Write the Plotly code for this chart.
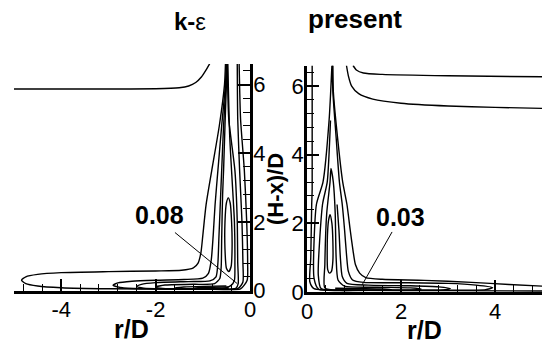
import plotly.graph_objects as go

# ---------------- k-epsilon panel (r/D < 0) ----------------
# ambient-side contour near the nozzle exit
kl_amb_r = [-5.0, -3.0, -2.0, -1.5, -1.3, -1.15, -1.03, -0.92, -0.85]
kl_amb_y = [5.87, 5.87, 5.88, 5.91, 5.96, 6.06, 6.22, 6.45, 6.62]

# outermost shear-layer / wall-jet contour (outer branch, wall loop, inner branch)
kl_c1_r = [-0.52, -0.54, -0.65, -0.81, -0.93, -1.0, -1.04, -1.1, -1.2, -1.45, -2.0, -3.0, -4.0, -4.5,
           -4.75, -4.84, -4.75, -4.5, -4.0, -3.0, -1.0, -0.2, -0.06, -0.05, -0.07, -0.12, -0.2, -0.23]
kl_c1_y = [6.6, 6.0, 4.8, 3.5, 2.5, 1.6, 1.1, 0.8, 0.66, 0.59, 0.57, 0.55, 0.52, 0.47,
           0.4, 0.3, 0.2, 0.13, 0.08, 0.05, 0.04, 0.05, 0.3, 0.8, 2.0, 3.5, 5.0, 6.6]

kl_c2_r = [-0.5, -0.52, -0.6, -0.68, -0.74, -0.78, -0.82, -0.88, -1.0, -1.4, -2.0, -2.5, -2.8, -2.9,
           -2.7, -2.2, -1.0, -0.25, -0.15, -0.15, -0.17, -0.22, -0.26, -0.27]
kl_c2_y = [6.6, 6.0, 4.8, 3.5, 2.5, 1.6, 0.9, 0.5, 0.36, 0.32, 0.3, 0.27, 0.22, 0.15,
           0.08, 0.05, 0.04, 0.06, 0.25, 0.8, 2.0, 3.5, 5.0, 6.6]

kl_c3_r = [-0.49, -0.51, -0.56, -0.6, -0.63, -0.66, -0.68, -0.72, -0.85, -1.3, -2.0, -2.3, -2.4,
           -2.25, -1.8, -0.8, -0.3, -0.25, -0.26, -0.27, -0.32, -0.45, -0.48]
kl_c3_y = [6.6, 6.0, 4.8, 3.5, 2.5, 1.5, 0.8, 0.4, 0.28, 0.26, 0.23, 0.18, 0.12,
           0.07, 0.05, 0.04, 0.06, 0.2, 0.8, 2.0, 3.5, 5.0, 6.6]

kl_c4_r = [-0.48, -0.5, -0.53, -0.56, -0.58, -0.6, -0.61, -0.64, -0.75, -1.2, -1.8, -2.0, -1.85,
           -1.2, -0.6, -0.4, -0.33, -0.32, -0.33, -0.37, -0.43, -0.47]
kl_c4_y = [6.6, 6.0, 4.8, 3.5, 2.8, 1.5, 0.7, 0.35, 0.2, 0.18, 0.16, 0.1, 0.06,
           0.05, 0.05, 0.15, 0.3, 0.8, 2.0, 3.0, 4.5, 6.6]

# peak-k island in the shear layer
kl_peak_r = [-0.46, -0.42, -0.39, -0.38, -0.4, -0.45, -0.5, -0.53, -0.53, -0.5, -0.46]
kl_peak_y = [2.7, 2.55, 2.0, 1.2, 0.7, 0.55, 0.65, 1.2, 2.0, 2.55, 2.7]

# thin near-wall islands
kl_w1_r = [-0.5, -1.0, -1.4, -1.6, -1.4, -1.0, -0.5]
kl_w1_y = [0.13, 0.12, 0.1, 0.07, 0.045, 0.045, 0.05]
kl_w2_r = [-0.45, -0.8, -1.1, -1.2, -1.1, -0.8, -0.45]
kl_w2_y = [0.1, 0.09, 0.08, 0.06, 0.045, 0.045, 0.05]

# ---------------- present-model panel (r/D > 0) ----------------
pr_amb1_r = [0.98, 1.05, 1.2, 1.6, 3.0, 5.0]
pr_amb1_y = [6.6, 6.47, 6.38, 6.34, 6.3, 6.27]
pr_amb2_r = [0.84, 0.88, 0.95, 1.1, 1.4, 2.0, 3.0, 4.0, 5.0]
pr_amb2_y = [6.6, 6.3, 6.0, 5.78, 5.62, 5.5, 5.42, 5.38, 5.35]

pr_c1_r = [0.55, 0.56, 0.65, 0.76, 0.85, 0.92, 0.98, 1.03, 1.12, 1.25, 1.6, 2.5, 3.5, 4.3, 5.0]
pr_c1_y = [6.6, 5.85, 4.5, 3.2, 2.55, 1.8, 1.2, 0.8, 0.55, 0.42, 0.37, 0.34, 0.28, 0.22, 0.17]
pr_c1i_r = [0.11, 0.11, 0.1, 0.08, 0.06, 0.15, 1.0, 3.0, 5.0]
pr_c1i_y = [6.6, 3.0, 2.55, 1.0, 0.3, 0.1, 0.05, 0.04, 0.03]

pr_c2_r = [0.54, 0.55, 0.62, 0.69, 0.75, 0.8, 0.84, 0.88, 0.97, 1.2, 2.0, 3.0, 3.6, 3.95, 3.8,
           3.0, 1.0, 0.25, 0.15, 0.2, 0.34, 0.47, 0.53]
pr_c2_y = [6.6, 5.85, 4.5, 3.2, 2.55, 1.8, 1.1, 0.6, 0.35, 0.28, 0.27, 0.25, 0.2, 0.13, 0.07,
           0.05, 0.05, 0.08, 0.4, 2.55, 3.2, 5.0, 6.6]

pr_c3_r = [0.64, 0.68, 0.71, 0.75, 0.85, 1.3, 2.2, 2.8, 3.05, 2.9, 2.0, 0.8, 0.3, 0.24, 0.33, 0.43, 0.5]
pr_c3_y = [2.55, 1.8, 1.0, 0.45, 0.25, 0.2, 0.18, 0.15, 0.1, 0.06, 0.05, 0.05, 0.1, 0.5, 2.55, 3.2, 5.0]

pr_c4_r = [0.51, 0.56, 0.6, 0.62, 0.66, 0.8, 1.5, 2.2, 2.43, 2.3, 1.5, 0.7, 0.38, 0.38, 0.42, 0.49, 0.51]
pr_c4_y = [3.6, 3.2, 2.3, 1.0, 0.35, 0.17, 0.14, 0.12, 0.09, 0.06, 0.05, 0.05, 0.12, 0.8, 2.3, 3.2, 3.6]

pr_peak_r = [0.49, 0.53, 0.55, 0.55, 0.52, 0.48, 0.44, 0.43, 0.44, 0.46, 0.49]
pr_peak_y = [2.25, 2.0, 1.5, 0.9, 0.6, 0.55, 0.65, 1.2, 1.8, 2.1, 2.25]

pr_w1_r = [0.6, 1.2, 1.6, 1.8, 1.6, 1.1, 0.6]
pr_w1_y = [0.11, 0.1, 0.09, 0.07, 0.05, 0.05, 0.06]

# level labels with their leader lines
lab_left = "0.08"
lab_left_pos = (-1.91, 2.19)
lead_left_r = [-1.59, -0.27]
lead_left_y = [1.69, 0.2]
lab_right = "0.03"
lab_right_pos = (1.98, 2.19)
lead_right_r = [1.81, 1.17]
lead_right_y = [1.75, 0.2]

x_ticks_left = [-4, -2, 0]
x_text_left = ["-4", "-2", "0"]
x_ticks_right = [0, 2, 4]
y_ticks = [0, 2, 4, 6]

FONT = "Liberation Sans, Arial, Helvetica, sans-serif"
LW = 1.4

fig = go.Figure()


def add_line(r, y, xa, ya, width=LW):
    fig.add_trace(go.Scatter(x=r, y=y, mode="lines", xaxis=xa, yaxis=ya,
                             line=dict(color="black", width=width, shape="spline", smoothing=0.6),
                             hoverinfo="skip", showlegend=False))


for r, y in [(kl_amb_r, kl_amb_y), (kl_c1_r, kl_c1_y), (kl_c2_r, kl_c2_y), (kl_c3_r, kl_c3_y),
             (kl_c4_r, kl_c4_y), (kl_peak_r, kl_peak_y), (kl_w1_r, kl_w1_y), (kl_w2_r, kl_w2_y)]:
    add_line(r, y, "x", "y")
for r, y in [(pr_amb1_r, pr_amb1_y), (pr_amb2_r, pr_amb2_y), (pr_c1_r, pr_c1_y), (pr_c1i_r, pr_c1i_y),
             (pr_c2_r, pr_c2_y), (pr_c3_r, pr_c3_y), (pr_c4_r, pr_c4_y), (pr_peak_r, pr_peak_y),
             (pr_w1_r, pr_w1_y)]:
    add_line(r, y, "x2", "y2")

fig.add_trace(go.Scatter(x=lead_left_r, y=lead_left_y, mode="lines", xaxis="x", yaxis="y",
                         line=dict(color="black", width=1), hoverinfo="skip", showlegend=False))
fig.add_trace(go.Scatter(x=lead_right_r, y=lead_right_y, mode="lines", xaxis="x2", yaxis="y2",
                         line=dict(color="black", width=1), hoverinfo="skip", showlegend=False))

axis_common = dict(showgrid=False, zeroline=False, showline=True, linecolor="black", linewidth=2.5,
                   automargin=False,
                   ticks="inside", ticklen=12, tickwidth=1.5, tickcolor="black",
                   tickfont=dict(family=FONT, size=22, color="black"),
                   minor=dict(ticks="inside", ticklen=7, tickwidth=1, tickcolor="black", dtick=0.4))

fig.update_layout(
    template="none",
    width=548, height=346, margin=dict(l=0, r=0, t=0, b=0, autoexpand=False),
    paper_bgcolor="white", plot_bgcolor="white", showlegend=False,
    xaxis=dict(domain=[14 / 548, 250 / 548], range=[-5, 0], tickvals=x_ticks_left, ticktext=x_text_left,
               anchor="y", ticklabelstandoff=-3, **axis_common),
    yaxis=dict(domain=[55.5 / 346, 282 / 346], range=[0, 6.6], tickvals=y_ticks,
               side="right", anchor="x", ticklabelstandoff=-4, **axis_common),
    xaxis2=dict(domain=[307 / 548, 542 / 548], range=[0, 5], tickvals=x_ticks_right,
                anchor="y2", ticklabelstandoff=-2, **axis_common),
    yaxis2=dict(domain=[54 / 346, 280.5 / 346], range=[0, 6.6], tickvals=y_ticks,
                side="left", anchor="x2", ticklabelstandoff=-4, **axis_common),
)

bold = dict(family=FONT, size=25, color="black")


def label(x, y, text, font, xref="paper", yref="paper", angle=0):
    fig.add_annotation(x=x, y=y, xref=xref, yref=yref, text=text, showarrow=False, font=font,
                       xanchor="center", yanchor="middle", textangle=angle)


label(lab_left_pos[0], lab_left_pos[1], "<b>%s</b>" % lab_left, bold, "x", "y")
label(lab_right_pos[0], lab_right_pos[1], "<b>%s</b>" % lab_right, bold, "x2", "y2")
label(131 / 548, 1 - 329 / 346, "<b>r/D</b>", bold)
label(424 / 548, 1 - 330 / 346, "<b>r/D</b>", bold)
label(275 / 548, 1 - 189 / 346, "<b>(H-x)/D</b>", dict(family=FONT, size=22, color="black"), angle=-90)
label(190 / 548, 1 - 21 / 346, "<b>k-</b>ε", dict(family=FONT, size=24, color="black"))
label(355 / 548, 1 - 19 / 346, "<b>present</b>", dict(family=FONT, size=26, color="black"))

fig.write_html("out.html")
